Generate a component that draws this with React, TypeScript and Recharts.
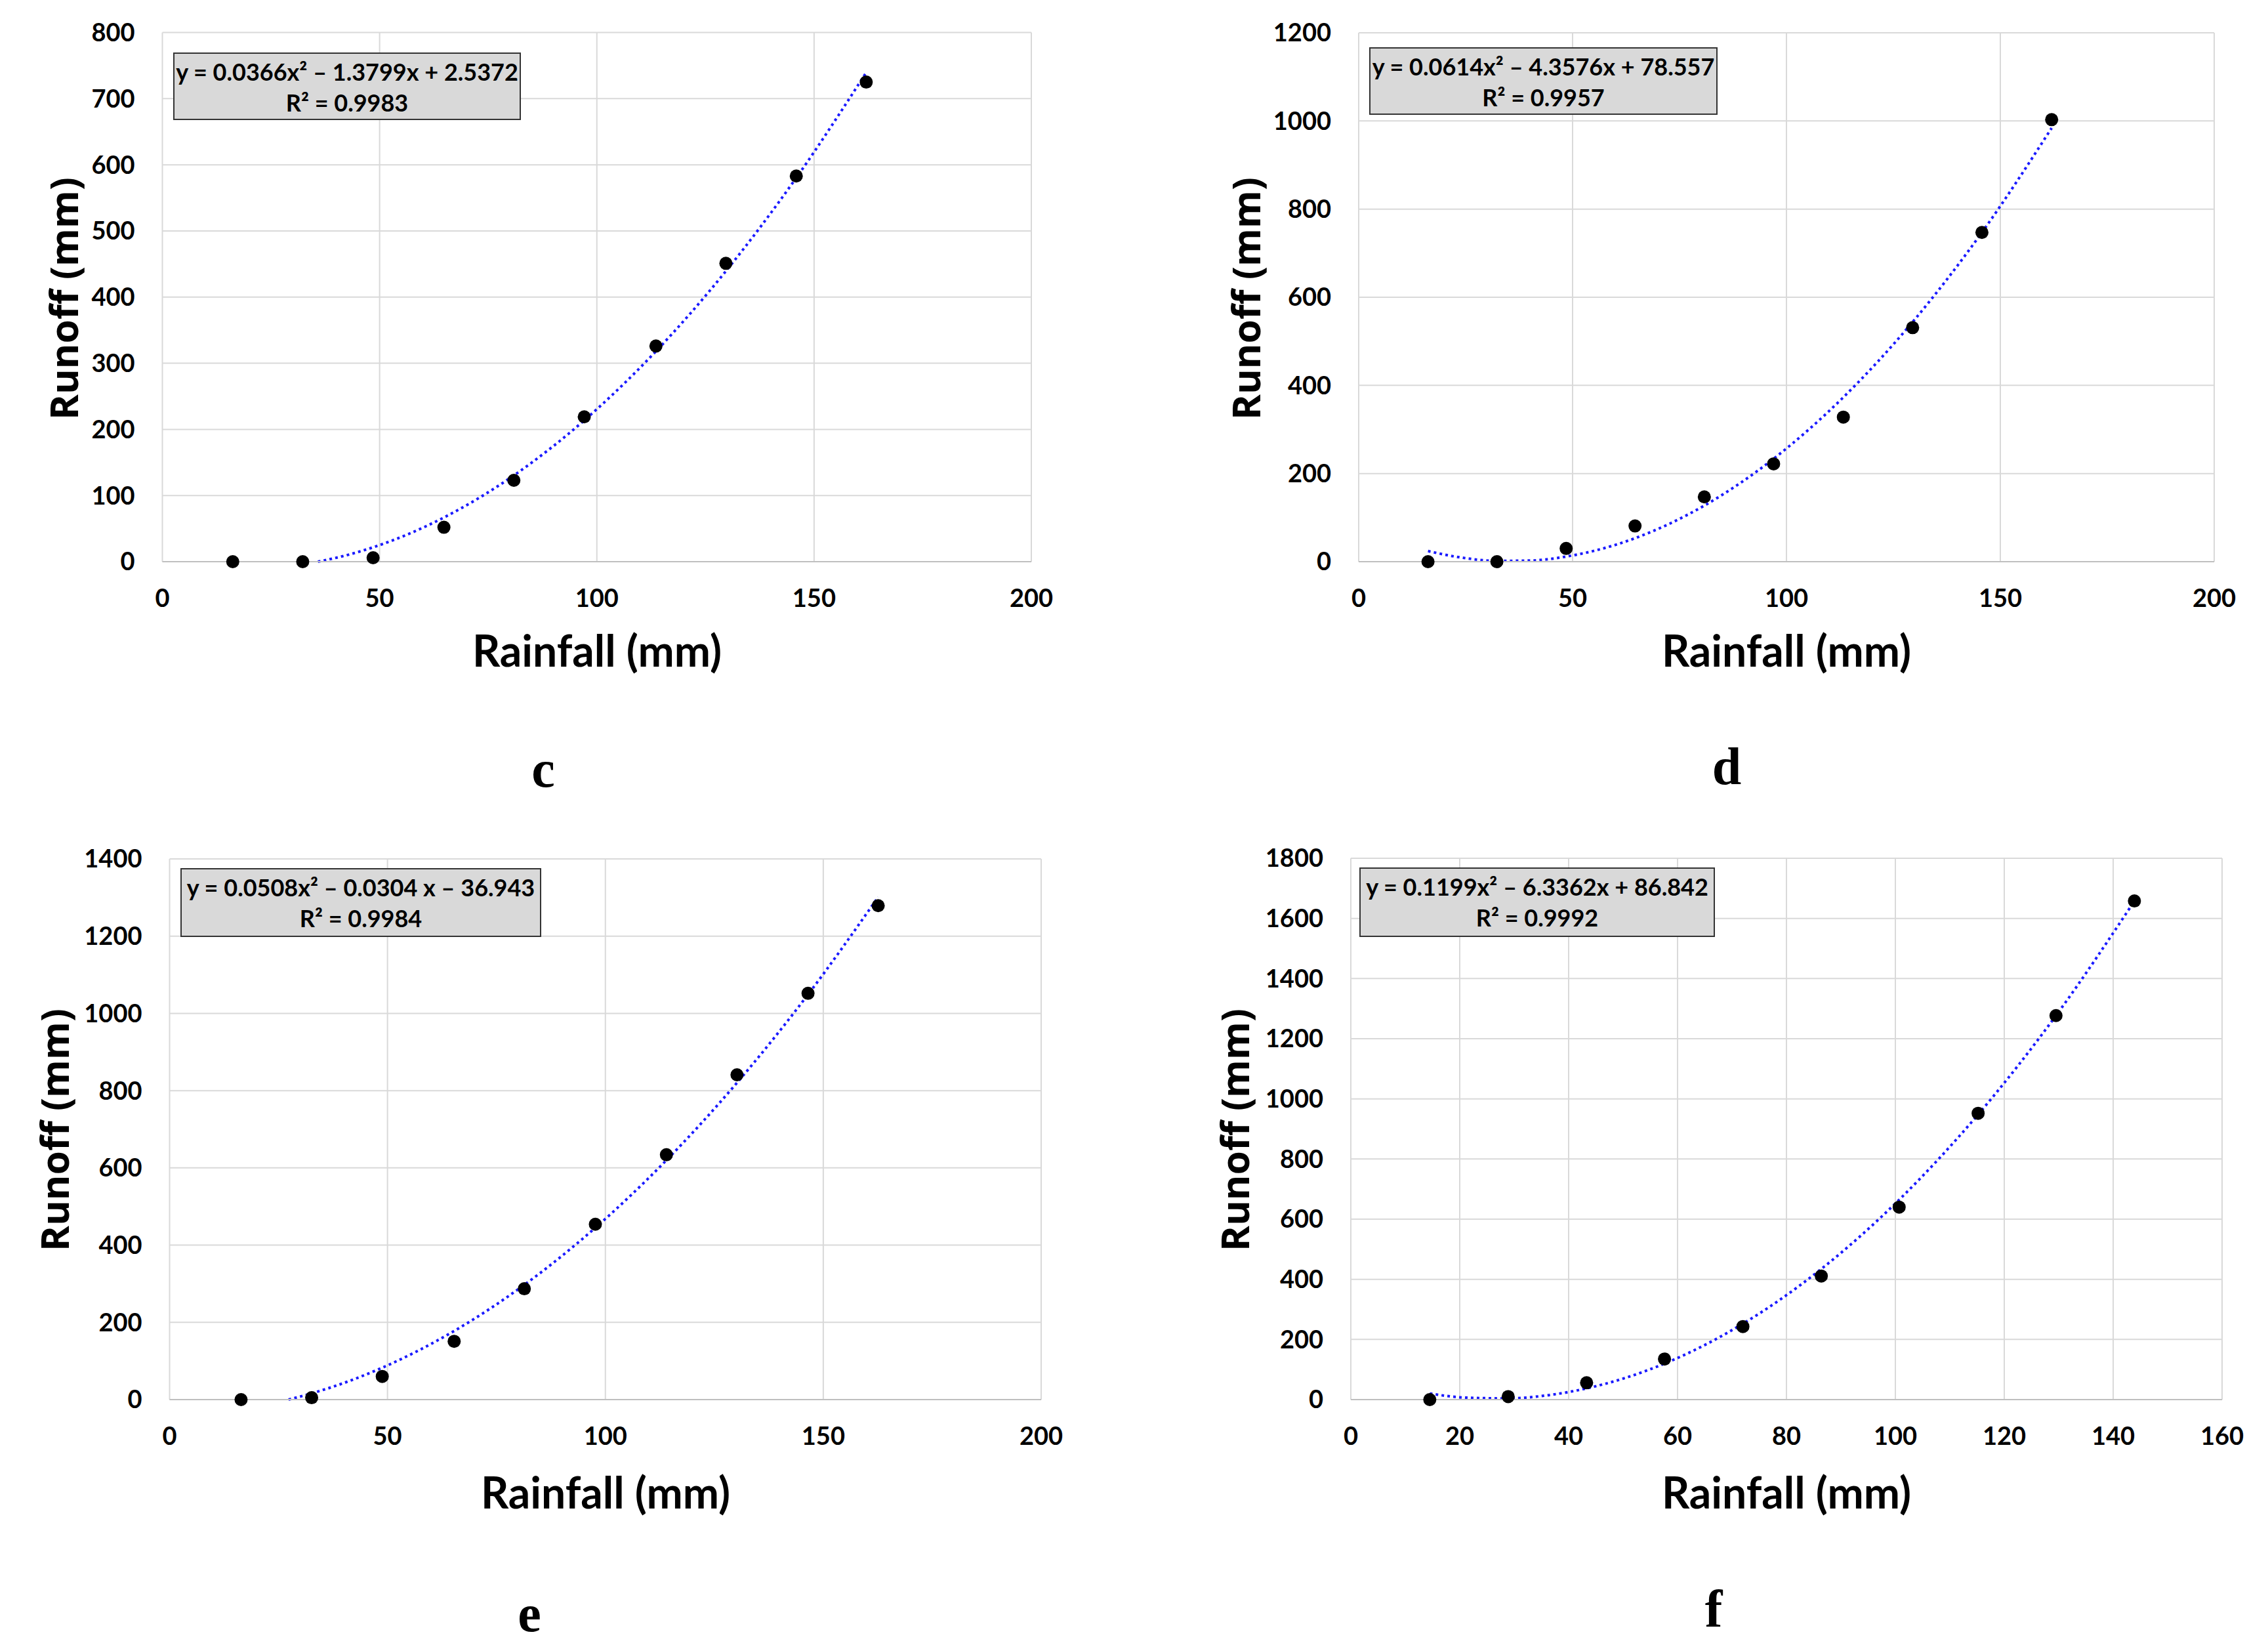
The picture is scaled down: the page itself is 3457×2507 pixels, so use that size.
import React from 'react';
import { ComposedChart, Scatter, Line, XAxis, YAxis, CartesianGrid } from 'recharts';

// panel c
const rainC = [16.2, 32.3, 48.5, 64.8, 80.9, 97.1, 113.6, 129.7, 145.9, 162.0];
const runoffC = [0, 0, 6, 52, 123, 219, 326, 451, 583, 725];
const trendRainC = [35.8, 42, 48.5, 64.8, 81, 97.1, 113.5, 129.7, 145.9, 162];
const trendRunoffC = [0, 9.1, 21.7, 66.8, 130.9, 213.6, 317.4, 439.2, 580.3, 739.5];
const yTicksC = [0, 100, 200, 300, 400, 500, 600, 700, 800];
const eqC = ['y = 0.0366x² – 1.3799x + 2.5372', 'R² = 0.9983'];

// panel d
const rainD = [16.2, 32.3, 48.5, 64.6, 80.8, 97.0, 113.3, 129.5, 145.7, 162.0];
const runoffD = [0, 0, 30, 81, 147, 222, 328, 531, 747, 1003];
const trendRainD = [16.2, 24, 32.3, 40, 48.5, 64.6, 80.8, 97, 113.3, 129.5, 145.7, 162];
const trendRunoffD = [24.1, 9.3, 1.9, 2.5, 11.6, 53.3, 127.3, 233.6, 373.0, 543.9, 747.1, 984.0];
const yTicksD = [0, 200, 400, 600, 800, 1000, 1200];
const eqD = ['y = 0.0614x² – 4.3576x + 78.557', 'R² = 0.9957'];

// panel e
const rainE = [16.4, 32.6, 48.8, 65.3, 81.4, 97.7, 114.0, 130.2, 146.5, 162.6];
const runoffE = [0, 5, 60, 151, 287, 454, 634, 841, 1052, 1279];
const trendRainE = [27.3, 32.6, 40, 48.8, 65.3, 81.4, 97.7, 114, 130.2, 146.5, 162.6];
const trendRunoffE = [0, 16.1, 43.1, 82.6, 177.7, 297.2, 445.0, 619.8, 820.3, 1048.9, 1301.2];
const yTicksE = [0, 200, 400, 600, 800, 1000, 1200, 1400];
const eqE = ['y = 0.0508x² – 0.0304 x – 36.943', 'R² = 0.9984'];

// panel f
const rainF = [14.5, 28.9, 43.3, 57.6, 72.0, 86.4, 100.7, 115.2, 129.5, 143.9];
const runoffF = [0, 10, 56, 135, 243, 411, 640, 952, 1277, 1658];
const trendRainF = [14.5, 21, 28.9, 36, 43.3, 57.6, 72, 86.4, 100.7, 115.2, 129.5, 143.9];
const trendRunoffF = [20.2, 6.7, 3.9, 14.1, 37.3, 119.7, 252.2, 434.4, 664.6, 948.1, 1277.0, 1657.8];
const yTicksF = [0, 200, 400, 600, 800, 1000, 1200, 1400, 1600, 1800];
const eqF = ['y = 0.1199x² – 6.3362x + 86.842', 'R² = 0.9992'];

const xTicks200 = [0, 50, 100, 150, 200];
const xTicks160 = [0, 20, 40, 60, 80, 100, 120, 140, 160];

const xTitle = 'Rainfall (mm)';
const yTitle = 'Runoff (mm)';

const pts = (xs: number[], ys: number[]) => xs.map((x, i) => ({ x, y: ys[i] }));

const tickStyle = { fill: '#000', fontSize: 38, fontFamily: 'Lato', fontWeight: 700 };

const Dot = (props: any) => <circle cx={props.cx} cy={props.cy} r={10} fill="#000" />;

interface PanelProps {
  left: number; top: number; width: number; height: number;
  yAxisWidth: number; xAxisHeight: number; marginTop: number; marginRight: number;
  points: { x: number; y: number }[];
  trend: { x: number; y: number }[];
  xTicks: number[]; yTicks: number[];
  equation: string[];
  box: { x: number; y: number; w: number; h: number };
  yTitlePos: { x: number; y: number };
  xTitlePos: { x: number; y: number };
  letter: string;
  letterPos: { x: number; y: number };
}

const Panel: React.FC<PanelProps> = (p) => (
  <>
    <div style={{ position: 'absolute', left: p.left, top: p.top }}>
      <ComposedChart
        width={p.width}
        height={p.height}
        margin={{ top: p.marginTop, right: p.marginRight, left: 0, bottom: 0 }}
      >
        <CartesianGrid stroke="#d9d9d9" strokeWidth={2} />
        <XAxis
          type="number"
          dataKey="x"
          domain={[p.xTicks[0], p.xTicks[p.xTicks.length - 1]]}
          ticks={p.xTicks}
          interval={0}
          height={p.xAxisHeight}
          tickLine={false}
          tickSize={0}
          tickMargin={42}
          axisLine={{ stroke: '#bfbfbf', strokeWidth: 2 }}
          tick={tickStyle}
        />
        <YAxis
          type="number"
          dataKey="y"
          domain={[0, p.yTicks[p.yTicks.length - 1]]}
          ticks={p.yTicks}
          interval={0}
          width={p.yAxisWidth}
          axisLine={false}
          tickLine={false}
          tickSize={0}
          tickMargin={42}
          tick={tickStyle}
        />
        <Scatter data={p.points} shape={Dot} isAnimationActive={false} />
        <Line
          data={p.trend}
          dataKey="y"
          type="monotone"
          stroke="#1a1aff"
          strokeWidth={4}
          strokeDasharray="4 5"
          dot={false}
          activeDot={false}
          isAnimationActive={false}
        />
      </ComposedChart>
    </div>
    <div
      style={{
        position: 'absolute', left: p.box.x, top: p.box.y, width: p.box.w, height: p.box.h,
        boxSizing: 'border-box', background: '#d9d9d9', border: '2px solid #333',
        fontFamily: 'Lato', fontWeight: 700, fontSize: 36, lineHeight: '47px',
        textAlign: 'center', paddingTop: 4, color: '#000', whiteSpace: 'nowrap',
      }}
    >
      {p.equation.map((t) => <div key={t}>{t}</div>)}
    </div>
    <div
      style={{
        position: 'absolute', left: p.yTitlePos.x, top: p.yTitlePos.y,
        transform: 'translate(-50%, -50%) rotate(-90deg)',
        fontFamily: 'Open Sans', fontWeight: 700, fontSize: 59, lineHeight: 1,
        whiteSpace: 'nowrap', color: '#000',
      }}
    >
      {yTitle}
    </div>
    <div
      style={{
        position: 'absolute', left: p.xTitlePos.x, top: p.xTitlePos.y,
        transform: 'translate(-50%, -50%)',
        fontFamily: 'Lato', fontWeight: 700, fontSize: 66, lineHeight: 1,
        whiteSpace: 'nowrap', color: '#000',
      }}
    >
      {xTitle}
    </div>
    <div
      style={{
        position: 'absolute', left: p.letterPos.x, top: p.letterPos.y,
        transform: 'translate(-50%, -50%)',
        fontFamily: 'Liberation Serif', fontWeight: 700, fontSize: 80, lineHeight: 1,
        color: '#000',
      }}
    >
      {p.letter}
    </div>
  </>
);

export default function App() {
  return (
    <div style={{ position: 'absolute', left: 0, top: 0, width: 3457, height: 2507, background: '#fff' }}>
      <Panel
        left={0} top={0} width={1720} height={1000}
        yAxisWidth={247.5} xAxisHeight={144} marginTop={49.5} marginRight={148}
        points={pts(rainC, runoffC)} trend={pts(trendRainC, trendRunoffC)}
        xTicks={xTicks200} yTicks={yTicksC} equation={eqC}
        box={{ x: 264, y: 80, w: 530, h: 103 }}
        yTitlePos={{ x: 96, y: 455 }} xTitlePos={{ x: 910, y: 991 }}
        letter="c" letterPos={{ x: 828, y: 1172 }}
      />
      <Panel
        left={1720} top={0} width={1737} height={1000}
        yAxisWidth={351} xAxisHeight={144} marginTop={50} marginRight={82}
        points={pts(rainD, runoffD)} trend={pts(trendRainD, trendRunoffD)}
        xTicks={xTicks200} yTicks={yTicksD} equation={eqD}
        box={{ x: 2087, y: 72, w: 531, h: 103 }}
        yTitlePos={{ x: 1898, y: 455 }} xTitlePos={{ x: 2723, y: 991 }}
        letter="d" letterPos={{ x: 2632, y: 1168 }}
      />
      <Panel
        left={0} top={1250} width={1720} height={1000}
        yAxisWidth={258.5} xAxisHeight={117} marginTop={59} marginRight={133}
        points={pts(rainE, runoffE)} trend={pts(trendRainE, trendRunoffE)}
        xTicks={xTicks200} yTicks={yTicksE} equation={eqE}
        box={{ x: 275, y: 1323, w: 550, h: 105 }}
        yTitlePos={{ x: 82, y: 1722 }} xTitlePos={{ x: 923, y: 2274 }}
        letter="e" letterPos={{ x: 807, y: 2459 }}
      />
      <Panel
        left={1720} top={1250} width={1737} height={1000}
        yAxisWidth={339} xAxisHeight={117} marginTop={58} marginRight={70}
        points={pts(rainF, runoffF)} trend={pts(trendRainF, trendRunoffF)}
        xTicks={xTicks160} yTicks={yTicksF} equation={eqF}
        box={{ x: 2072, y: 1322, w: 542, h: 106 }}
        yTitlePos={{ x: 1881, y: 1722 }} xTitlePos={{ x: 2723, y: 2274 }}
        letter="f" letterPos={{ x: 2612, y: 2452 }}
      />
    </div>
  );
}
